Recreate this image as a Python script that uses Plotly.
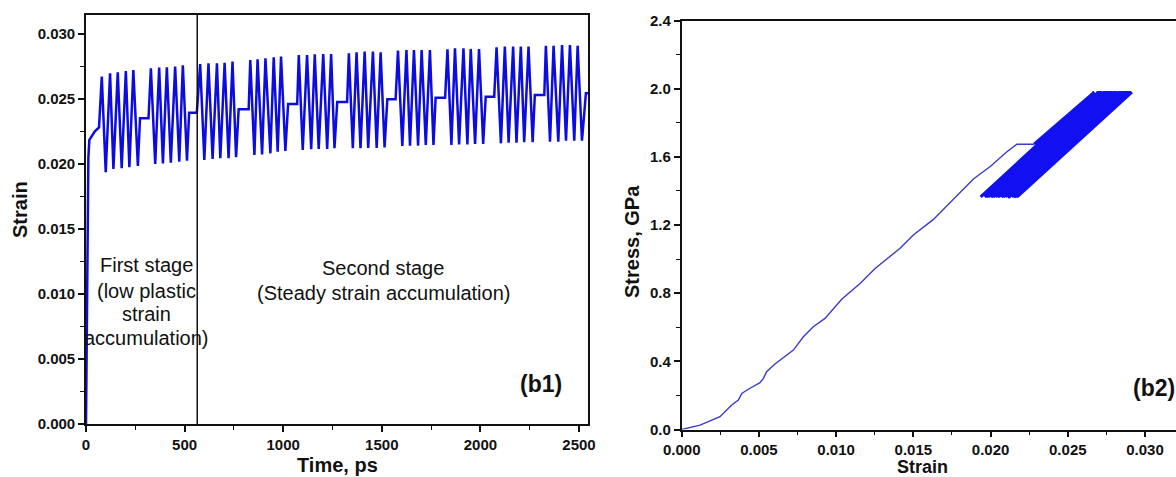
import plotly.graph_objects as go

W, H = 1176, 477

# ---------------- (b1) strain history ----------------
# initial loading and short creep before cycling
ramp_time = [0, 5, 12, 17, 30, 45, 66]
ramp_strain = [0.0, 0.0080, 0.0205, 0.02185, 0.0222, 0.02252, 0.02282]

# ten blocks of five cycles: peak / trough vertices
peak_time = [
    [80, 122, 161, 202, 240],
    [329, 371, 410, 452, 491],
    [579, 621, 664, 703, 743],
    [833, 870, 910, 952, 989],
    [1079, 1121, 1160, 1203, 1243],
    [1333, 1372, 1413, 1455, 1494],
    [1582, 1625, 1663, 1702, 1744],
    [1833, 1871, 1914, 1951, 1993],
    [2082, 2124, 2166, 2205, 2244],
    [2332, 2371, 2414, 2454, 2493],
]
peak_strain = [
    [0.02672, 0.02698, 0.02705, 0.02715, 0.02723],
    [0.02736, 0.02741, 0.02744, 0.02749, 0.02759],
    [0.02769, 0.02774, 0.02774, 0.02779, 0.02787],
    [0.02800, 0.02805, 0.02813, 0.02821, 0.02826],
    [0.02838, 0.02838, 0.02844, 0.02846, 0.02846],
    [0.02851, 0.02859, 0.02864, 0.02864, 0.02859],
    [0.02872, 0.02877, 0.02877, 0.02877, 0.02877],
    [0.02882, 0.02890, 0.02890, 0.02885, 0.02885],
    [0.02897, 0.02903, 0.02903, 0.02903, 0.02903],
    [0.02910, 0.02910, 0.02915, 0.02915, 0.02910],
]
trough_time = [
    [100, 139, 181, 220, 263],
    [351, 390, 430, 473, 512],
    [600, 642, 681, 723, 761],
    [854, 893, 935, 972, 1011],
    [1099, 1142, 1180, 1223, 1260],
    [1353, 1392, 1431, 1474, 1514],
    [1604, 1643, 1684, 1723, 1762],
    [1853, 1892, 1934, 1973, 2014],
    [2104, 2143, 2183, 2222, 2265],
    [2353, 2395, 2434, 2476, 2515],
]
trough_strain = [
    [0.01936, 0.01962, 0.01967, 0.01975, 0.01985],
    [0.02000, 0.02005, 0.02010, 0.02018, 0.02025],
    [0.02031, 0.02038, 0.02044, 0.02044, 0.02052],
    [0.02069, 0.02074, 0.02082, 0.02095, 0.02100],
    [0.02108, 0.02113, 0.02115, 0.02115, 0.02121],
    [0.02121, 0.02121, 0.02124, 0.02124, 0.02128],
    [0.02138, 0.02141, 0.02141, 0.02146, 0.02146],
    [0.02146, 0.02151, 0.02151, 0.02154, 0.02154],
    [0.02159, 0.02164, 0.02164, 0.02167, 0.02167],
    [0.02172, 0.02172, 0.02179, 0.02179, 0.02179],
]
# hold between blocks (start, end) and its strain level
hold_time = [
    [274, 317], [523, 562], [774, 825], [1025, 1071], [1274, 1324],
    [1528, 1570], [1773, 1821], [2027, 2070], [2276, 2324], [2535, 2546],
]
hold_strain = [0.02352, 0.02395, 0.02421, 0.02462, 0.02477,
               0.02497, 0.02510, 0.02518, 0.02531, 0.02544]

stage_boundary_ps = 564

# ---------------- (b2) stress-strain ----------------
load_strain = [0.0, 0.00119, 0.00248, 0.00324, 0.00367, 0.00389, 0.00442,
               0.00507, 0.00529, 0.00550, 0.00604, 0.00669, 0.00723, 0.00788,
               0.00852, 0.00928, 0.00993, 0.01036, 0.01155, 0.01252, 0.01414,
               0.01500, 0.01630, 0.01802, 0.01889, 0.02000, 0.02100, 0.02170]
load_stress = [0.0, 0.026, 0.075, 0.144, 0.173, 0.212, 0.242,
               0.275, 0.300, 0.339, 0.384, 0.427, 0.466, 0.544,
               0.603, 0.652, 0.720, 0.764, 0.857, 0.945, 1.063,
               1.141, 1.233, 1.390, 1.470, 1.545, 1.625, 1.674]
stress_peak = 1.98     # GPa, cycle maximum
stress_trough = 1.365  # GPa, cycle minimum
stress_hold = 1.674    # GPa, hold / creep level

# ---- assemble series ----
t_series = list(ramp_time)
e_series = list(ramp_strain)

# monotonic loading followed by the creep plateau at the hold stress
mono_strain = load_strain + [ramp_strain[-1]]
mono_stress = load_stress + [stress_hold]

cyc_strain = [ramp_strain[-1]]
cyc_stress = [stress_hold]
for g in range(len(peak_time)):
    for k in range(len(peak_time[g])):
        t_series += [peak_time[g][k], trough_time[g][k]]
        e_series += [peak_strain[g][k], trough_strain[g][k]]
        cyc_strain += [peak_strain[g][k], trough_strain[g][k]]
        cyc_stress += [stress_peak, stress_trough]
    t_series += hold_time[g]
    e_series += [hold_strain[g], hold_strain[g]]
    cyc_strain.append(hold_strain[g])
    cyc_stress.append(stress_hold)

FONT = "Liberation Sans, Arial, sans-serif"
TXT = "#111111"

fig = go.Figure()
fig.add_trace(go.Scatter(x=t_series, y=e_series, mode="lines",
                         line=dict(color="#0c0ce0", width=2.5),
                         xaxis="x", yaxis="y", showlegend=False))
fig.add_trace(go.Scatter(x=mono_strain, y=mono_stress, mode="lines",
                         line=dict(color="#3a3acc", width=1.4),
                         xaxis="x2", yaxis="y2", showlegend=False))
fig.add_trace(go.Scatter(x=cyc_strain, y=cyc_stress, mode="lines",
                         line=dict(color="#1010f0", width=3),
                         xaxis="x2", yaxis="y2", showlegend=False))

tickfont = dict(family=FONT, size=15, color=TXT, weight="bold")
axis_common = dict(showgrid=False, zeroline=False, showline=True,
                   linecolor="#111111", linewidth=1.6, ticks="outside",
                   ticklen=6, tickwidth=1.5, tickcolor="#111111",
                   tickfont=tickfont, automargin=False)

def minor(d):
    return dict(dtick=d, ticks="outside", ticklen=4, tickwidth=1.3,
                tickcolor="#111111", showgrid=False)

fig.update_layout(
    width=W, height=H,
    margin=dict(l=0, r=0, t=0, b=0, autoexpand=False),
    paper_bgcolor="white", plot_bgcolor="white",
    xaxis=dict(domain=[86 / W, 588 / W], range=[0, 2545.6],
               tick0=0, dtick=500, minor=minor(250), mirror=True,
               anchor="y", **axis_common),
    yaxis=dict(domain=[1 - 424 / H, 1 - 15 / H], range=[0, 0.03146],
               tick0=0, dtick=0.005, tickformat=".3f", minor=minor(0.0025),
               mirror=True, anchor="x", **axis_common),
    xaxis2=dict(domain=[681.7 / W, 1.0], range=[0, 0.032007],
                tick0=0, dtick=0.005, tickformat=".3f", minor=minor(0.0025),
                mirror=True, anchor="y2", **axis_common),
    yaxis2=dict(domain=[1 - 429.5 / H, 1 - 20.5 / H], range=[0, 2.4],
                tick0=0, dtick=0.4, tickformat=".1f", minor=minor(0.2),
                mirror=False, anchor="x2", **axis_common),
)

# boundary between the two stages
fig.add_shape(type="line", xref="x", yref="y domain",
              x0=stage_boundary_ps, x1=stage_boundary_ps, y0=0, y1=1,
              line=dict(color="#111111", width=1.5))

def ann(text, xp, yp, size, bold=False, angle=0, xanchor="center",
        yanchor="middle"):
    fig.add_annotation(text=text, xref="paper", yref="paper",
                       x=xp / W, y=1 - yp / H, showarrow=False,
                       textangle=angle, xanchor=xanchor, yanchor=yanchor,
                       font=dict(family=FONT, size=size, color=TXT,
                                 weight="bold" if bold else "normal"))

# axis titles
ann("Strain", 20, 210, 20, bold=True, angle=-90)
ann("Time, ps", 337, 465, 20, bold=True)
ann("Stress, GPa", 632, 242, 20, bold=True, angle=-90)
ann("Strain", 922, 467, 18, bold=True)

# stage labels
for txt, yy in [("First stage", 265), ("(low plastic", 291),
                ("strain", 314), ("accumulation)", 338)]:
    ann(txt, 146, yy, 20)
ann("Second stage", 383, 268, 20)
ann("(Steady strain accumulation)", 383, 293, 20)

# panel tags
ann("(b1)", 541, 384, 23, bold=True)
ann("(b2)", 1154, 388, 23, bold=True)

fig.write_html("out.html")
